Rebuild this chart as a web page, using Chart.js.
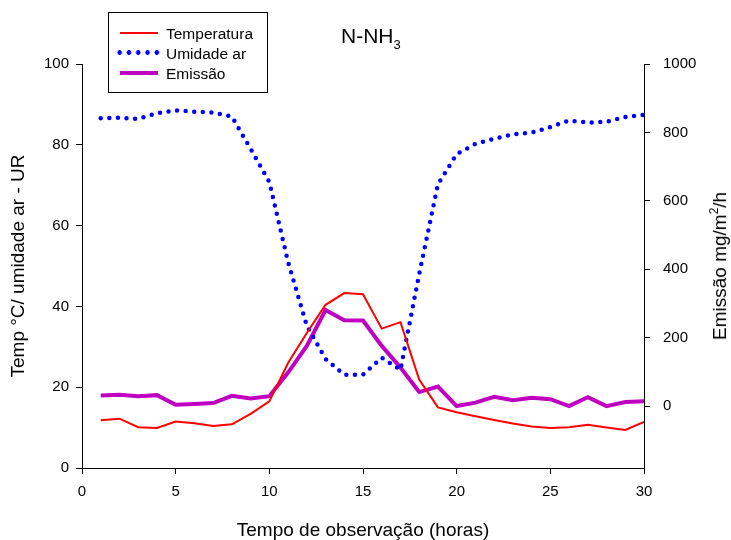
<!DOCTYPE html>
<html>
<head>
<meta charset="utf-8">
<script src="https://cdn.jsdelivr.net/npm/chart.js@4.4.1/dist/chart.umd.min.js"></script>
<style>
  body { margin: 0; background: #fff; }
  #wrap { position: relative; width: 731px; height: 540px; font-family: 'Liberation Sans', Arial, sans-serif; color: #000; }
  #chart { position: absolute; left: 0; top: 0; }
  .title { position: absolute; left: 341px; top: 25px; font-size: 21px; line-height: 21px; white-space: nowrap; }
  .title sub { font-size: 13px; vertical-align: baseline; position: relative; top: 6px; }
  .legend { position: absolute; left: 108px; top: 12px; width: 158px; height: 79px; border: 1px solid #000; }
  .legend .txt { position: absolute; left: 57px; font-size: 15.5px; line-height: 15.5px; white-space: nowrap; }
  .legend .sample { position: absolute; left: 11px; width: 38px; }
  .ytitle-right { position: absolute; left: 720.5px; top: 266px; font-size: 19px; line-height: 19px; white-space: nowrap;
    transform: translate(-50%, -50%) rotate(-90deg); }
  .ytitle-right sup { font-size: 12px; vertical-align: baseline; position: relative; top: -8px; }
</style>
</head>
<body>
<div id="wrap">
  <canvas id="chart" width="731" height="540"></canvas>
  <div class="title">N-NH<sub>3</sub></div>
  <div class="legend">
    <div class="sample" style="top:19px;height:2px;background:#ff0000;"></div>
    <div class="txt" style="top:12.5px;">Temperatura</div>
    <div class="sample" style="top:37px;left:6px;width:47px;height:5px;background:radial-gradient(circle, #0000ff 2.1px, transparent 2.6px) 0 0 / 9.3px 5px repeat-x;"></div>
    <div class="txt" style="top:32.5px;">Umidade ar</div>
    <div class="sample" style="top:57.5px;height:4px;background:#c000c0;"></div>
    <div class="txt" style="top:52.5px;">Emissão</div>
  </div>
  <div class="ytitle-right">Emissão mg/m<sup>2</sup>/h</div>
</div>
<script>
// Horas de observação
const hours = [1, 2, 3, 4, 5, 6, 7, 8, 9, 10, 11, 12, 13, 14, 15,
  16, 17, 18, 19, 20, 21, 22, 23, 24, 25, 26, 27, 28, 29, 30];

// Temperatura (°C)
const temperatura = [11.8, 12.2, 10.1, 9.9, 11.5, 11.1, 10.4, 10.8, 13.4, 16.5,
  26.0, 33.4, 40.4, 43.3, 43.0, 34.5, 36.1, 21.9, 15.0, 13.8,
  12.8, 11.9, 11.0, 10.3, 9.9, 10.1, 10.7, 10.0, 9.4, 11.4];

// Umidade do ar (%)
const umidade = [86.6, 86.7, 86.4, 87.8, 88.5, 88.2, 88.0, 87.0, 79.0, 70.8,
  51.0, 35.2, 27.0, 23.1, 23.1, 27.3, 24.3, 48.0, 70.2, 77.7,
  80.2, 81.5, 82.6, 83.0, 84.4, 86.0, 85.5, 85.7, 86.9, 87.4];

// Emissão de N-NH3 (mg/m2/h)
const emissao = [31, 33, 29, 32, 4, 6, 9, 30, 22, 29,
  98, 176, 281, 251, 250, 176, 113, 41, 57, 0,
  10, 27, 17, 24, 20, 0, 26, 0, 12, 14];

// Marcas dos eixos
const xTicks = [0, 5, 10, 15, 20, 25, 30];
const leftTicks = [0, 20, 40, 60, 80, 100];
const rightTicks = [0, 200, 400, 600, 800, 1000];

Chart.defaults.font.family = "'Liberation Sans', Arial, sans-serif";
Chart.defaults.color = '#000';

const toPoints = (values) => values.map((v, i) => ({ x: hours[i], y: v }));
const setTicks = (list) => (scale) => { scale.ticks = list.map((v) => ({ value: v })); };
const plainLabel = (value) => String(value);

const axisGrid = { drawOnChartArea: false, drawTicks: true, tickLength: 6, color: '#000', lineWidth: 1 };
const axisBorder = { display: true, color: '#000', width: 1 };

new Chart(document.getElementById('chart').getContext('2d'), {
  type: 'line',
  data: {
    datasets: [
      {
        label: 'Temperatura',
        data: toPoints(temperatura),
        yAxisID: 'y',
        borderColor: '#ff0000',
        borderWidth: 2,
        pointRadius: 0,
        tension: 0,
      },
      {
        label: 'Umidade ar',
        data: toPoints(umidade),
        yAxisID: 'y',
        borderColor: '#0000ff',
        borderWidth: 4.5,
        borderDash: [0, 8.6],
        borderCapStyle: 'round',
        pointRadius: 0,
        tension: 0,
      },
      {
        label: 'Emissão',
        data: toPoints(emissao),
        yAxisID: 'y2',
        borderColor: '#c000c0',
        borderWidth: 4,
        pointRadius: 0,
        tension: 0,
      },
    ],
  },
  options: {
    responsive: false,
    animation: false,
    layout: { padding: { top: 64, left: 0, right: 0, bottom: 0 } },
    plugins: { legend: { display: false }, tooltip: { enabled: false } },
    scales: {
      x: {
        type: 'linear',
        min: 0,
        max: 30,
        afterBuildTicks: setTicks(xTicks),
        afterFit: (scale) => { scale.height = 72; },
        grid: axisGrid,
        border: axisBorder,
        ticks: { font: { size: 15 }, padding: 9, maxRotation: 0, callback: plainLabel },
        title: {
          display: true,
          text: 'Tempo de observação (horas)',
          font: { size: 19, lineHeight: 1 },
          padding: { top: 0, bottom: 0 },
        },
      },
      y: {
        position: 'left',
        min: 0,
        max: 100,
        afterBuildTicks: setTicks(leftTicks),
        afterFit: (scale) => { scale.width = 82; },
        grid: axisGrid,
        border: axisBorder,
        ticks: { font: { size: 15 }, padding: 7, callback: plainLabel },
        title: {
          display: true,
          text: 'Temp °C/ umidade ar - UR',
          font: { size: 19, lineHeight: 1 },
          padding: { top: 9.5, bottom: 0 },
        },
      },
      y2: {
        position: 'right',
        min: -181,
        max: 1000,
        afterBuildTicks: setTicks(rightTicks),
        afterFit: (scale) => { scale.width = 87; },
        grid: axisGrid,
        border: axisBorder,
        ticks: { font: { size: 15 }, padding: 13, callback: plainLabel },
      },
    },
  },
});
</script>
</body>
</html>
